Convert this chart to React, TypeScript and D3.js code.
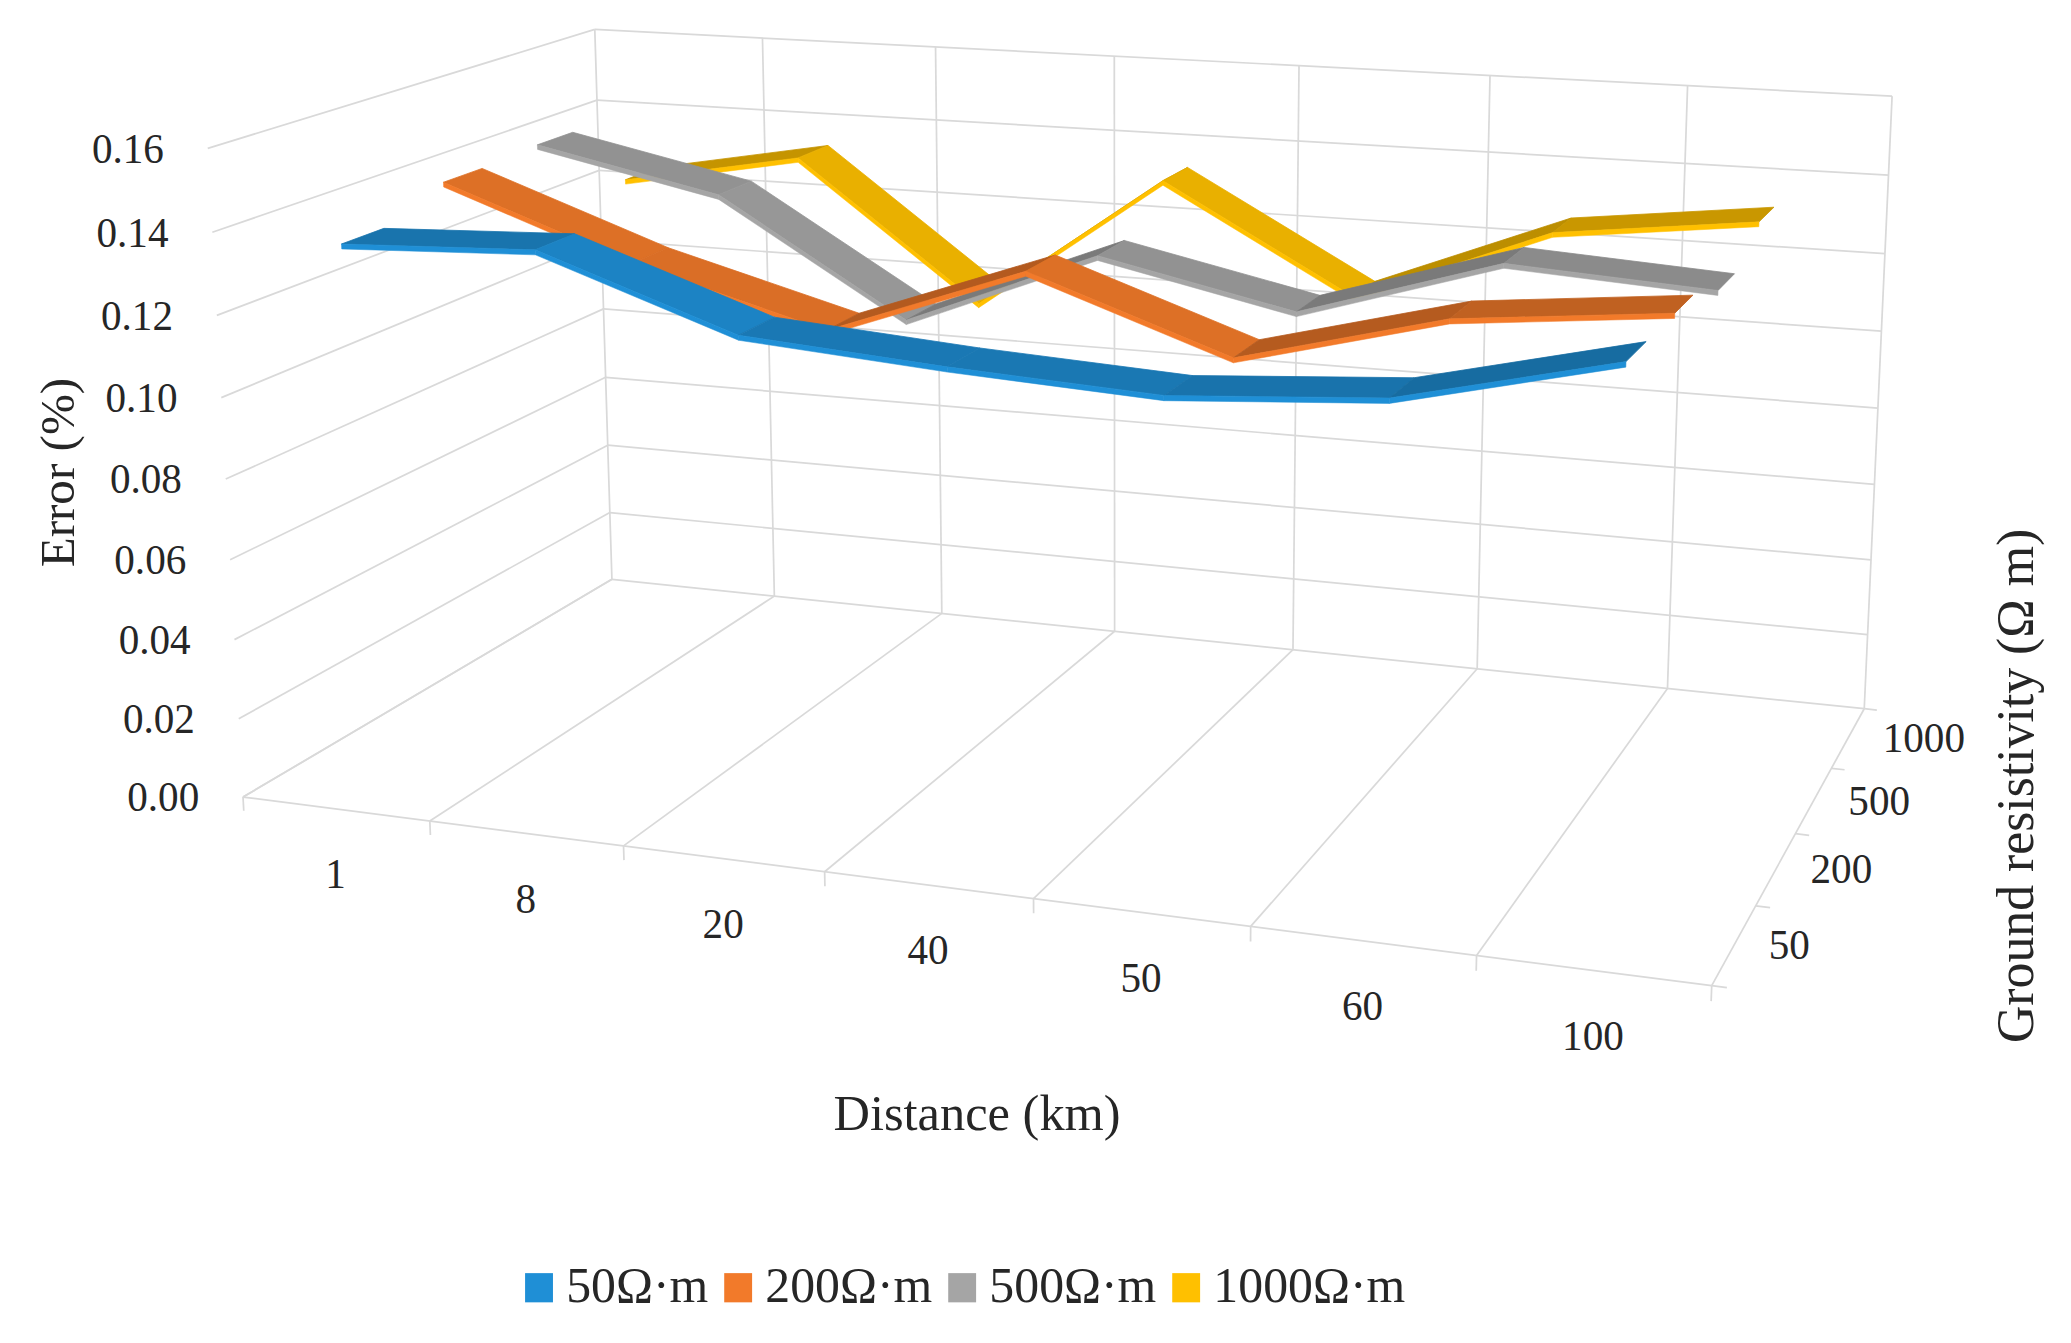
import { useLayoutEffect, useMemo, useRef, useState } from 'react';
import * as d3 from 'd3';

// Distance categories (front axis) and ground resistivity series (depth axis)
const distances = ['1', '8', '20', '40', '50', '60', '100'];
const resistivities = ['50', '200', '500', '1000'];
const seriesLabels = ['50Ω·m', '200Ω·m', '500Ω·m', '1000Ω·m'];
const seriesColors = ['#1f8fd6', '#f27a2a', '#a5a5a5', '#ffc000'];

// Error (%)
const error50 = [0.136, 0.138, 0.1215, 0.118, 0.1155, 0.119, 0.131];
const error200 = [0.142, 0.125, 0.112, 0.13, 0.113, 0.126, 0.131];
const error500 = [0.143, 0.133, 0.104, 0.124, 0.1135, 0.129, 0.126];
const error1000 = [0.125, 0.134, 0.098, 0.134, 0.107, 0.127, 0.133];
const errorTicks = [0, 0.02, 0.04, 0.06, 0.08, 0.1, 0.12, 0.14, 0.16];

// Where the unit plot box (u = distance, v = error, w = depth) lands on a 1560-wide frame.
// Used only to fit the perspective camera.
const frameAnchors = [
    [0, 0, 0, 184.5, 600], [1 / 7, 0, 0, 325, 618], [2 / 7, 0, 0, 472, 638], [3 / 7, 0, 0, 622, 657],
    [4 / 7, 0, 0, 778, 677], [5 / 7, 0, 0, 941, 699], [6 / 7, 0, 0, 1110, 721], [1, 0, 0, 1285, 743],
    [1, 0, 0.25, 1326, 680], [1, 0, 0.5, 1354, 628], [1, 0, 0.75, 1384, 578], [1, 0, 1, 1403, 533],
    [0, 0.125, 0, 178, 541], [0, 0.25, 0, 176, 482], [0, 0.375, 0, 173, 422], [0, 0.5, 0, 171, 361],
    [0, 0.625, 0, 166.5, 300], [0, 0.75, 0, 163, 237], [0, 0.875, 0, 160, 174.5], [0, 1, 0, 156, 110.5],
    [0, 0, 1, 461, 437], [1 / 7, 0, 1, 583, 449.5], [2 / 7, 0, 1, 708, 462], [6 / 7, 0, 1, 1254, 518],
    [0, 0.125, 1, 459, 386], [0, 1, 1, 449, 22], [1, 1, 1, 1425, 74],
];

const FRAME_W = 1560;
const FRAME_H = (1343 * FRAME_W) / 2071;
const FONT = "'Liberation Serif', 'Times New Roman', serif";
const GRID = '#d9d9d9';
const TEXT = '#262626';

type Pt = [number, number];

// least squares DLT: 3x4 projection with p34 = 1
function fitCamera(anchors: number[][]) {
    const s = 1000;
    const n = 11;
    const M: number[][] = Array.from({ length: n }, () => new Array(n + 1).fill(0));
    const add = (r: number[], b: number) => {
        for (let i = 0; i < n; i++) {
            for (let j = 0; j < n; j++) M[i][j] += r[i] * r[j];
            M[i][n] += r[i] * b;
        }
    };
    for (const [u, v, w, x0, y0] of anchors) {
        const x = x0 / s, y = y0 / s;
        add([u, v, w, 1, 0, 0, 0, 0, -x * u, -x * v, -x * w], x);
        add([0, 0, 0, 0, u, v, w, 1, -y * u, -y * v, -y * w], y);
    }
    for (let c = 0; c < n; c++) {
        let p = c;
        for (let r = c + 1; r < n; r++) if (Math.abs(M[r][c]) > Math.abs(M[p][c])) p = r;
        [M[c], M[p]] = [M[p], M[c]];
        for (let r = 0; r < n; r++) {
            if (r === c) continue;
            const f = M[r][c] / M[c][c];
            for (let j = c; j <= n; j++) M[r][j] -= f * M[c][j];
        }
    }
    const p = M.map((r, i) => r[n] / r[i]);
    return (u: number, v: number, w: number): Pt => {
        const d = p[8] * u + p[9] * v + p[10] * w + 1;
        return [
            (s * (p[0] * u + p[1] * v + p[2] * w + p[3])) / d,
            (s * (p[4] * u + p[5] * v + p[6] * w + p[7])) / d,
        ];
    };
}

export default function App() {
    const project = useMemo(() => fitCamera(frameAnchors), []);
    const legendRefs = useRef<(SVGTextElement | null)[]>([]);
    const [legendWidths, setLegendWidths] = useState<number[]>(seriesLabels.map(l => l.length * 18));

    useLayoutEffect(() => {
        const w = legendRefs.current.map(t => (t ? t.getComputedTextLength() : 0));
        if (w.every(x => x > 0)) setLegendWidths(w);
    }, []);

    const x = d3.scaleBand<string>().domain(distances).range([0, 1]);
    const z = d3.scaleBand<string>().domain(resistivities).range([0, 1]);
    const v = d3.scaleLinear().domain([0, 0.16]).range([0, 1]);
    const line = d3.line<Pt>();
    const poly = (pts: Pt[]) => line(pts) + 'Z';

    const uEdges = d3.range(distances.length + 1).map(k => k * x.step());
    const wEdges = d3.range(resistivities.length + 1).map(k => k * z.step());
    const seg = (a: number[], b: number[]) => line([project(a[0], a[1], a[2]), project(b[0], b[1], b[2])])!;

    const gridPaths: string[] = [
        // back wall
        ...errorTicks.map(t => seg([0, v(t), 1], [1, v(t), 1])),
        ...uEdges.map(u => seg([u, 0, 1], [u, 1, 1])),
        // side wall
        ...errorTicks.map(t => seg([0, v(t), 0], [0, v(t), 1])),
        // floor
        ...uEdges.map(u => seg([u, 0, 0], [u, 0, 1])),
        seg([0, 0, 0], [1, 0, 0]),
        // ticks
        ...uEdges.map(u => seg([u, 0, 0], [u, -0.022, 0])),
        ...wEdges.map(w => seg([1, 0, w], [1.009, 0, w])),
    ];

    const series = [error50, error200, error500, error1000].map((values, k) => ({
        key: resistivities[k],
        color: seriesColors[k],
        values,
    }));

    const ribbonShare = 0.4;
    const thickness = 0.0012;
    const shade = (c: string, dv: number) => {
        const t = Math.max(-1, Math.min(1, dv / 0.015));
        return d3.color(c)!.darker(0.55 + 0.3 * t).formatHex();
    };

    const ribbons = series
        .slice()
        .reverse()
        .map(s => {
            const zc = z(s.key)! + z.bandwidth() / 2;
            const z0 = zc - (z.bandwidth() * ribbonShare) / 2;
            const z1 = zc + (z.bandwidth() * ribbonShare) / 2;
            const pts = s.values.map((val, i) => ({ u: x(distances[i])! + x.bandwidth() / 2, val }));
            const tops = d3.pairs(pts).map(([a, b]) => ({
                d: poly([
                    project(a.u, v(a.val), z0),
                    project(b.u, v(b.val), z0),
                    project(b.u, v(b.val), z1),
                    project(a.u, v(a.val), z1),
                ]),
                fill: shade(s.color, b.val - a.val),
            }));
            const fronts = d3.pairs(pts).map(([a, b]) =>
                poly([
                    project(a.u, v(a.val), z0),
                    project(b.u, v(b.val), z0),
                    project(b.u, v(b.val - thickness), z0),
                    project(a.u, v(a.val - thickness), z0),
                ]),
            );
            return { key: s.key, color: s.color, tops, fronts };
        });

    const gap = 12;
    const swatch = 21;
    const itemW = legendWidths.map(w => swatch + 10 + w);
    const legendTotal = d3.sum(itemW) + gap * (itemW.length - 1);
    let cursor = 727 - legendTotal / 2;
    const legendX = itemW.map(w => {
        const at = cursor;
        cursor += w + gap;
        return at;
    });

    return (
        <div style={{ position: 'absolute', left: 0, top: 0, background: '#fff' }}>
            <svg width={2071} height={1343} viewBox={`0 0 ${FRAME_W} ${FRAME_H}`} style={{ display: 'block' }}>
                <rect width={FRAME_W} height={FRAME_H} fill="#fff" />
                <g fill="none" stroke={GRID} strokeWidth={1.3}>
                    {gridPaths.map((d, i) => (
                        <path key={i} d={d} />
                    ))}
                </g>

                {ribbons.map(r => (
                    <g key={r.key}>
                        {r.tops.map((t, i) => (
                            <path key={i} d={t.d} fill={t.fill} stroke={t.fill} strokeWidth={0.6} strokeLinejoin="round" />
                        ))}
                        {r.fronts.map((d, i) => (
                            <path key={i} d={d} fill={r.color} stroke={r.color} strokeWidth={0.4} />
                        ))}
                    </g>
                ))}

                <g fontFamily={FONT} fontSize={31} fill={TEXT}>
                    {errorTicks.map(t => {
                        const [px, py] = project(0, v(t), 0);
                        return (
                            <text key={t} x={px - 33} y={py} dy="0.35em" textAnchor="end">
                                {d3.format('.2f')(t)}
                            </text>
                        );
                    })}
                    {distances.map(d => {
                        const [px, py] = project(x(d)! + x.bandwidth() / 2, 0, 0);
                        return (
                            <text key={d} x={px} y={py + 49} dy="0.35em" textAnchor="middle">
                                {d}
                            </text>
                        );
                    })}
                    {resistivities.map(r => {
                        const [px, py] = project(1, 0, z(r)! + z.bandwidth() / 2);
                        return (
                            <text key={r} x={px + 26} y={py} dy="0.35em" textAnchor="start">
                                {r}
                            </text>
                        );
                    })}
                </g>

                <g fontFamily={FONT} fontSize={37} fill={TEXT}>
                    <text transform="translate(56,356) rotate(-90)" textAnchor="middle">
                        Error (%)
                    </text>
                    <text x={736} y={851} fontSize={38} textAnchor="middle">
                        Distance (km)
                    </text>
                    <text transform="translate(1531,592) rotate(-90)" fontSize={39} textAnchor="middle">
                        Ground resistivity (Ω m)
                    </text>
                </g>

                <g fontFamily={FONT} fontSize={37.5} fill={TEXT}>
                    {seriesLabels.map((label, i) => (
                        <g key={label} transform={`translate(${legendX[i]},0)`}>
                            <rect x={0} y={959} width={swatch} height={22} fill={seriesColors[i]} />
                            <text
                                ref={el => {
                                    legendRefs.current[i] = el;
                                }}
                                x={swatch + 10}
                                y={981}
                            >
                                {label}
                            </text>
                        </g>
                    ))}
                </g>
            </svg>
        </div>
    );
}
